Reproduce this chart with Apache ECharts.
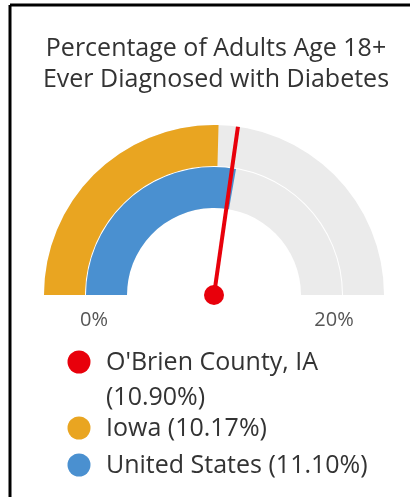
<!DOCTYPE html>
<html>
<head>
<meta charset="utf-8">
<script src="https://cdn.jsdelivr.net/npm/echarts@6/dist/echarts.min.js"></script>
<style>
  html, body { margin: 0; padding: 0; background: #fff; }
  #chart { width: 410px; height: 497px; }
</style>
</head>
<body>
<div id="chart"></div>
<script>
// Diabetes prevalence: county vs. state vs. nation
const titleLines = ['Percentage of Adults Age 18+', 'Ever Diagnosed with Diabetes'];
const seriesNames = ["O'Brien County, IA", 'Iowa', 'United States'];
const seriesValues = [10.90, 10.17, 11.10];
const seriesColors = ['#e8000b', '#e9a521', '#4a90d0'];
const axisMin = 0;
const axisMax = 20;
const tickLabels = ['0%', '20%'];

const FONT = 'Open Sans';
const cx = 214, cy = 295;      // gauge centre
const outerR = 170;            // outer ring radius (state)
const innerR = 128;            // inner ring radius (nation)
const bandW = 41;

const chart = echarts.init(document.getElementById('chart'), null, { renderer: 'canvas' });

function ringSeries(name, value, color, radius) {
  return {
    name: name,
    type: 'gauge',
    center: [cx, cy],
    radius: radius,
    startAngle: 180,
    endAngle: 0,
    min: axisMin,
    max: axisMax,
    progress: { show: true, width: bandW, itemStyle: { color: color } },
    axisLine: { lineStyle: { width: bandW, color: [[1, '#ebebeb']] } },
    pointer: { show: false },
    anchor: { show: false },
    axisTick: { show: false },
    splitLine: { show: false },
    axisLabel: { show: false },
    title: { show: false },
    detail: { show: false },
    data: [{ value: value, name: name }]
  };
}

const needleSeries = {
  name: seriesNames[0],
  type: 'gauge',
  center: [cx, cy],
  radius: outerR,
  startAngle: 180,
  endAngle: 0,
  min: axisMin,
  max: axisMax,
  axisLine: { show: false },
  progress: { show: false },
  pointer: { show: true, icon: 'rect', length: '100%', width: 4, itemStyle: { color: seriesColors[0] } },
  anchor: { show: true, size: 20, showAbove: true, itemStyle: { color: seriesColors[0] } },
  axisTick: { show: false },
  splitLine: { show: false },
  axisLabel: { show: false },
  title: { show: false },
  detail: { show: false },
  z: 5,
  data: [{ value: seriesValues[0], name: seriesNames[0] }]
};

// tick labels under both ends of the arc
const labelOffset = 120;
const tickGraphics = tickLabels.map((t, i) => ({
  type: 'text',
  x: i === 0 ? cx - labelOffset : cx + labelOffset,
  y: cy + 25,
  style: { text: t, fill: '#555', font: '20px "' + FONT + '"', textAlign: 'center', textVerticalAlign: 'middle' }
}));

// legend: coloured dots + name and value
const legendRowsY = [362, 428, 465];
const legendGraphics = [];
seriesNames.forEach((n, i) => {
  legendGraphics.push({
    type: 'circle',
    shape: { cx: 79, cy: legendRowsY[i], r: 11.5 },
    style: { fill: seriesColors[i] }
  });
  const label = n + (i === 0 ? '\n' : ' ') + '(' + seriesValues[i].toFixed(2) + '%)';
  legendGraphics.push({
    type: 'text',
    x: 106,
    y: legendRowsY[i] - 17,
    style: { text: label, fill: '#333', font: '25px "' + FONT + '"', lineHeight: 35, textAlign: 'left', textVerticalAlign: 'top' }
  });
});

const frameGraphics = [
  { type: 'line', shape: { x1: 10, y1: 5, x2: 410, y2: 5 }, style: { stroke: '#000', lineWidth: 3 } },
  { type: 'line', shape: { x1: 10, y1: 5, x2: 10, y2: 497 }, style: { stroke: '#000', lineWidth: 3 } }
];

chart.setOption({
  animation: false,
  backgroundColor: '#fff',
  title: {
    text: titleLines.join('\n'),
    left: 211,
    textAlign: 'center',
    top: 28,
    textStyle: { fontFamily: FONT, fontSize: 25, fontWeight: 'normal', color: '#333', lineHeight: 31 }
  },
  series: [
    ringSeries(seriesNames[1], seriesValues[1], seriesColors[1], outerR),
    ringSeries(seriesNames[2], seriesValues[2], seriesColors[2], innerR),
    needleSeries
  ],
  graphic: frameGraphics.concat(tickGraphics, legendGraphics)
});
</script>
</body>
</html>
